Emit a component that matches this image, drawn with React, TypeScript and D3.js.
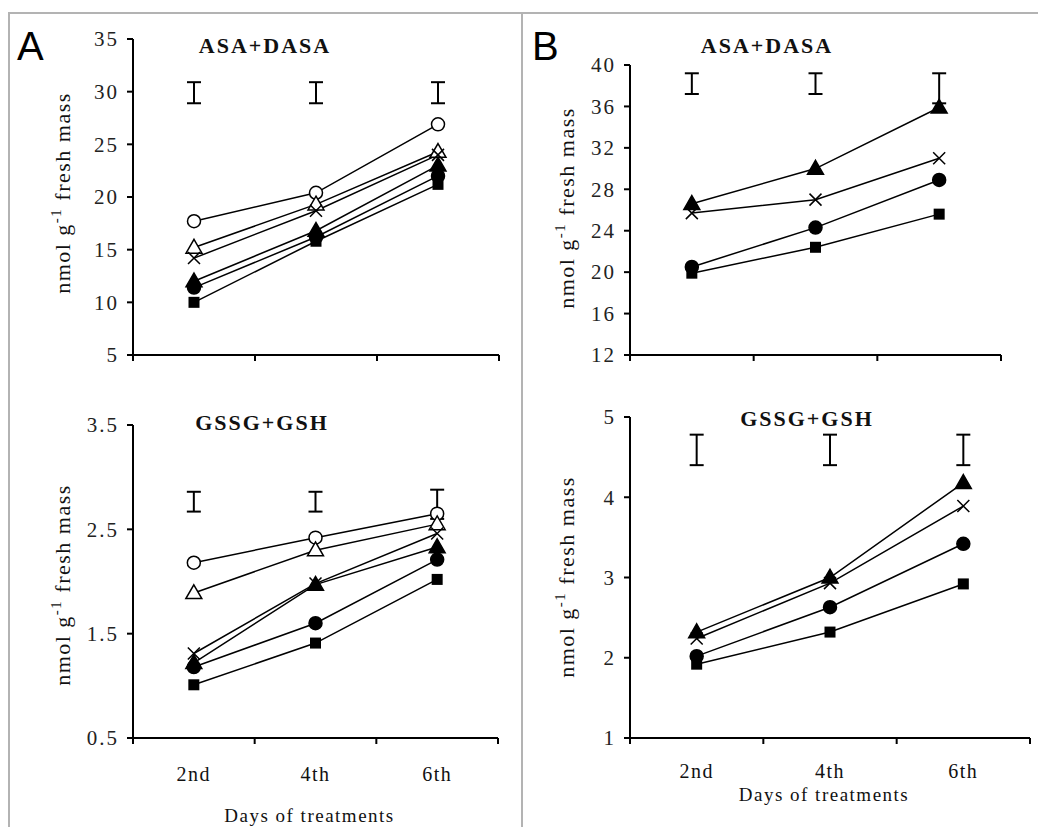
import React from "react";
import * as d3 from "d3";

// categories
const days = ["2nd", "4th", "6th"];

// A, ASA+DASA (nmol g-1 fresh mass)
const aAsaOpenCircle = [17.7, 20.4, 26.9];
const aAsaOpenTriangle = [15.2, 19.3, 24.3];
const aAsaCross = [14.2, 18.7, 24.0];
const aAsaTriangle = [12.0, 16.8, 23.0];
const aAsaCircle = [11.4, 16.2, 22.0];
const aAsaSquare = [10.0, 15.8, 21.2];
const aAsaErrLow = [28.9, 28.9, 28.9];
const aAsaErrHigh = [30.9, 30.9, 30.9];
const aAsaTicks = [5, 10, 15, 20, 25, 30, 35];

// B, ASA+DASA
const bAsaTriangle = [26.6, 30.0, 35.9];
const bAsaCross = [25.7, 27.0, 31.0];
const bAsaCircle = [20.5, 24.3, 28.9];
const bAsaSquare = [19.9, 22.4, 25.6];
const bAsaErrLow = [37.2, 37.2, 36.3];
const bAsaErrHigh = [39.2, 39.2, 39.2];
const bAsaTicks = [12, 16, 20, 24, 28, 32, 36, 40];

// A, GSSG+GSH
const aGshOpenCircle = [2.18, 2.42, 2.65];
const aGshOpenTriangle = [1.89, 2.3, 2.55];
const aGshCross = [1.31, 1.98, 2.46];
const aGshTriangle = [1.22, 1.97, 2.33];
const aGshCircle = [1.18, 1.6, 2.21];
const aGshSquare = [1.01, 1.41, 2.02];
const aGshErrLow = [2.67, 2.67, 2.6];
const aGshErrHigh = [2.86, 2.86, 2.88];
const aGshTicks = [0.5, 1.5, 2.5, 3.5];

// B, GSSG+GSH
const bGshTriangle = [2.32, 3.0, 4.18];
const bGshCross = [2.24, 2.93, 3.89];
const bGshCircle = [2.02, 2.63, 3.42];
const bGshSquare = [1.92, 2.32, 2.92];
const bGshErrLow = [4.4, 4.4, 4.4];
const bGshErrHigh = [4.78, 4.78, 4.78];
const bGshTicks = [1, 2, 3, 4, 5];

type Marker = "openCircle" | "openTriangle" | "cross" | "triangle" | "circle" | "square";

const panels = [
  {
    title: "ASA+DASA", x0: 133, x1: 499, yTop: 39, yBot: 355, dom: [5, 35], ticks: aAsaTicks,
    titleX: 265, titleY: 53, labelX: 63, labelY: 193, dayY: null, daysTitleY: null,
    err: [aAsaErrLow, aAsaErrHigh],
    series: [
      { m: "openCircle", v: aAsaOpenCircle }, { m: "openTriangle", v: aAsaOpenTriangle },
      { m: "cross", v: aAsaCross }, { m: "triangle", v: aAsaTriangle },
      { m: "circle", v: aAsaCircle }, { m: "square", v: aAsaSquare },
    ],
  },
  {
    title: "ASA+DASA", x0: 630, x1: 1001, yTop: 65, yBot: 355, dom: [12, 40], ticks: bAsaTicks,
    titleX: 767, titleY: 53, labelX: 567, labelY: 208, dayY: null, daysTitleY: null,
    err: [bAsaErrLow, bAsaErrHigh],
    series: [
      { m: "triangle", v: bAsaTriangle }, { m: "cross", v: bAsaCross },
      { m: "circle", v: bAsaCircle }, { m: "square", v: bAsaSquare },
    ],
  },
  {
    title: "GSSG+GSH", x0: 133, x1: 498, yTop: 425, yBot: 738, dom: [0.5, 3.5], ticks: aGshTicks,
    titleX: 262, titleY: 430, labelX: 63, labelY: 585, dayY: 781, daysTitleY: 822,
    err: [aGshErrLow, aGshErrHigh],
    series: [
      { m: "openCircle", v: aGshOpenCircle }, { m: "openTriangle", v: aGshOpenTriangle },
      { m: "cross", v: aGshCross }, { m: "triangle", v: aGshTriangle },
      { m: "circle", v: aGshCircle }, { m: "square", v: aGshSquare },
    ],
  },
  {
    title: "GSSG+GSH", x0: 630, x1: 1030, yTop: 417, yBot: 738, dom: [1, 5], ticks: bGshTicks,
    titleX: 807, titleY: 426, labelX: 567, labelY: 577, dayY: 778, daysTitleY: 801,
    err: [bGshErrLow, bGshErrHigh],
    series: [
      { m: "triangle", v: bGshTriangle }, { m: "cross", v: bGshCross },
      { m: "circle", v: bGshCircle }, { m: "square", v: bGshSquare },
    ],
  },
];

const serif = "'Liberation Serif', 'Times New Roman', serif";

function MarkerShape({ m, x, y }: { m: Marker; x: number; y: number }) {
  if (m === "openCircle" || m === "circle")
    return <circle cx={x} cy={y} r={6.5} fill={m === "circle" ? "#000" : "#fff"} stroke="#000" strokeWidth={1.5} />;
  if (m === "openTriangle" || m === "triangle") {
    const tri = d3.symbol(d3.symbolTriangle, 110)();
    return <path d={tri!} transform={`translate(${x},${y + 1})`} fill={m === "triangle" ? "#000" : "#fff"} stroke="#000" strokeWidth={1.5} />;
  }
  if (m === "square") return <rect x={x - 5.5} y={y - 5.5} width={11} height={11} fill="#000" />;
  return (
    <path d={`M${x - 6},${y - 6}L${x + 6},${y + 6}M${x - 6},${y + 6}L${x + 6},${y - 6}`} stroke="#000" strokeWidth={1.5} fill="none" />
  );
}

function Panel({ p }: { p: any }) {
  const x = d3.scaleBand<string>().domain(days).range([p.x0, p.x1]);
  const y = d3.scaleLinear().domain(p.dom).range([p.yBot, p.yTop]);
  const cx = (d: string) => (x(d) as number) + x.bandwidth() / 2;
  const line = d3.line<number>().x((_, i) => cx(days[i])).y((v) => y(v));
  const bandEdges = days.map((d) => (x(d) as number) + x.bandwidth());
  return (
    <g>
      {/* axes */}
      <line x1={p.x0} x2={p.x0} y1={p.yTop} y2={p.yBot + 6} stroke="#000" strokeWidth={2} />
      <line x1={p.x0 - 6} x2={p.x1} y1={p.yBot} y2={p.yBot} stroke="#000" strokeWidth={2} />
      {p.ticks.map((t: number) => (
        <g key={t}>
          <line x1={p.x0 - 6} x2={p.x0} y1={y(t)} y2={y(t)} stroke="#000" strokeWidth={2} />
          <text x={p.x0 - 14} y={y(t)} dy="0.35em" textAnchor="end" fontFamily={serif} fontSize={21} letterSpacing={2} fill="#222">
            {t}
          </text>
        </g>
      ))}
      {bandEdges.map((e, i) => (
        <line key={i} x1={e} x2={e} y1={p.yBot} y2={p.yBot + 6} stroke="#000" strokeWidth={2} />
      ))}
      {p.dayY &&
        days.map((d) => (
          <text key={d} x={cx(d)} y={p.dayY} textAnchor="middle" fontFamily={serif} fontSize={20} letterSpacing={1.5} fill="#111">
            {d}
          </text>
        ))}
      {p.daysTitleY && (
        <text x={(p.x0 + p.x1) / 2 - 6} y={p.daysTitleY} textAnchor="middle" fontFamily={serif} fontSize={19} letterSpacing={1.5} fill="#111">
          Days of treatments
        </text>
      )}
      {/* title */}
      <text x={p.titleX} y={p.titleY} textAnchor="middle" fontFamily={serif} fontWeight="bold" fontSize={22} letterSpacing={2} fill="#111">
        {p.title}
      </text>
      {/* y label */}
      <text transform={`translate(${p.labelX + 7},${p.labelY}) rotate(-90)`} textAnchor="middle" fontFamily={serif} fontSize={22} letterSpacing={1.5} fill="#111">
        nmol g<tspan dy={-9} fontSize={15}>-1</tspan>
        <tspan dy={9}> fresh mass</tspan>
      </text>
      {/* error bars */}
      {days.map((d, i) => {
        const lo = y(p.err[0][i]);
        const hi = y(p.err[1][i]);
        const c = cx(d);
        return (
          <g key={d} stroke="#000" strokeWidth={2}>
            <line x1={c} x2={c} y1={hi} y2={lo} />
            <line x1={c - 7} x2={c + 7} y1={hi} y2={hi} />
            <line x1={c - 7} x2={c + 7} y1={lo} y2={lo} />
          </g>
        );
      })}
      {/* series */}
      {p.series.map((s: any, k: number) => (
        <path key={k} d={line(s.v)!} fill="none" stroke="#000" strokeWidth={1.5} />
      ))}
      {p.series.map((s: any, k: number) =>
        s.v.map((v: number, i: number) => <MarkerShape key={`${k}-${i}`} m={s.m} x={cx(days[i])} y={y(v)} />)
      )}
    </g>
  );
}

export default function App() {
  return (
    <svg width={1038} height={827} style={{ position: "absolute", left: 0, top: 0, background: "#fff" }}>
      <rect width={1038} height={827} fill="#fff" />
      <line x1={8} x2={1038} y1={13} y2={13} stroke="#b3b3b3" strokeWidth={2} />
      <line x1={9} x2={9} y1={13} y2={827} stroke="#b3b3b3" strokeWidth={2} />
      <line x1={522} x2={522} y1={13} y2={827} stroke="#b3b3b3" strokeWidth={2} />
      <text x={17} y={60} fontFamily="'Liberation Sans', Arial, sans-serif" fontSize={40} fill="#000">A</text>
      <text x={532} y={60} fontFamily="'Liberation Sans', Arial, sans-serif" fontSize={40} fill="#000">B</text>
      {panels.map((p, i) => (
        <Panel key={i} p={p} />
      ))}
    </svg>
  );
}
